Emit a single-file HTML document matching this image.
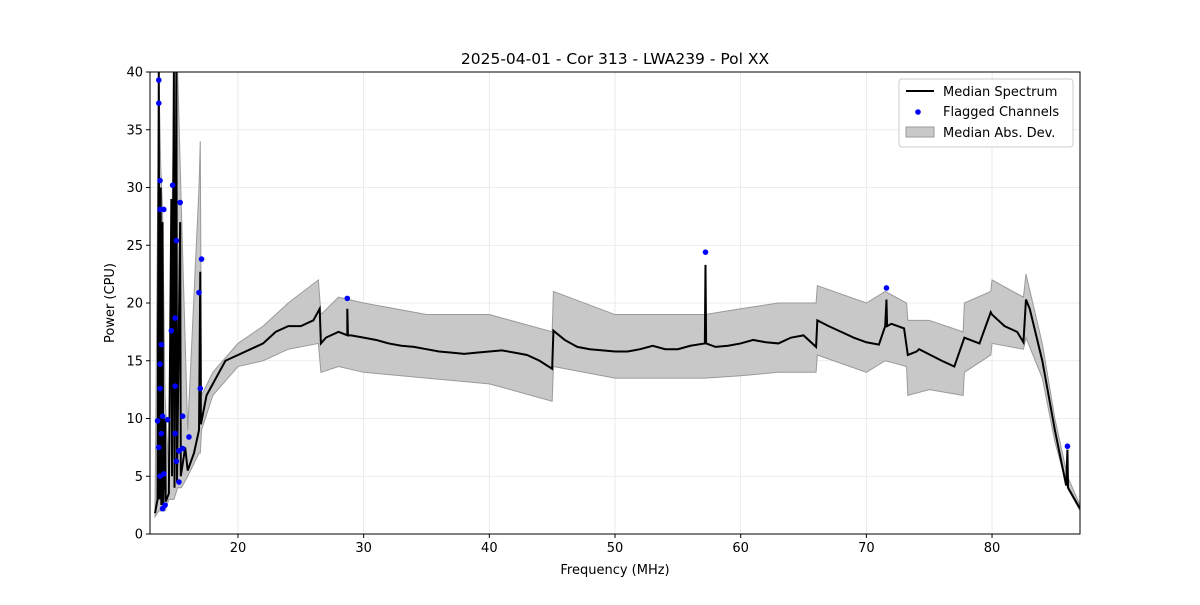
<!DOCTYPE html>
<html><head><meta charset="utf-8">
<style>
body{margin:0;background:#fff;font-family:"Liberation Sans","DejaVu Sans",sans-serif;}
svg text{font-family:"DejaVu Sans","Liberation Sans",sans-serif;font-size:13px;fill:#000}
</style></head><body>
<svg id="chart" width="1200" height="600" xmlns="http://www.w3.org/2000/svg">
<rect width="1200" height="600" fill="#fff"/>
<g id="grid"></g><g id="band"></g><g id="series"></g><g id="pts"></g><g id="axes"></g>
</svg>
<script>
const medFreq=[13.4,13.6,13.7,13.75,13.85,13.9,14.0,14.05,14.2,14.25,14.5,14.7,14.75,14.9,14.95,15.1,15.15,15.4,15.45,15.8,16,16.5,16.9,17.0,17.05,17.5,18,19,20,21,22,23,24,25,26,26.5,26.6,27,28,28.7,28.7,28.75,29,30,31,32,33,34,35,36,37,38,39,40,41,42,43,44,45,45.1,46,47,48,49,50,51,52,53,54,55,56,57.15,57.2,57.25,58,59,60,61,62,63,64,65,66,66.1,67,68,69,70,71,71.5,71.6,71.65,72,73,73.3,74,74.2,76,77,77.8,79,79.9,80,81,82,82.5,82.7,83,84,85,85.9,86,86.05,87];
const medVal=[1.8,3,40,3,30,2.5,27,2.5,10,2.8,3.5,29,5,40,4,40,4.5,27,5,7.5,5.5,7,9,22.7,9.5,12,13,15,15.5,16,16.5,17.5,18,18,18.5,19.5,16.5,17,17.5,17.2,19.5,17.2,17.2,17,16.8,16.5,16.3,16.2,16,15.8,15.7,15.6,15.7,15.8,15.9,15.7,15.5,15,14.3,17.6,16.8,16.2,16,15.9,15.8,15.8,16,16.3,16,16,16.3,16.5,23.3,16.5,16.2,16.3,16.5,16.8,16.6,16.5,17,17.2,16.2,18.5,18,17.5,17,16.6,16.4,18,20.3,18,18.2,17.8,15.5,15.8,16,15,14.5,17,16.5,19.2,19,18,17.5,16.6,20.3,19.5,15,9,4.2,7.3,4,2.2];
const bandFreq=[13.4,13.7,13.85,14.0,14.2,14.5,14.9,15.2,15.5,16,16.9,17.0,17.1,18,20,22,24,26.4,26.6,28,30,35,40,45,45.1,50,55,57.2,60,63,66,66.1,70,71.5,73.2,73.3,75,77.7,77.8,79.9,80,82.5,82.7,84,85,86,87];
const bandLo=[1.5,2,2,2,2,3,3,4,4,5,7,7,9,12,14.5,15,16,16.5,14,14.5,14,13.5,13,11.5,14.5,13.5,13.5,13.5,13.7,14,14,15.5,14,15,14.5,12,12.5,12,14,15.5,16.5,16,17,13.5,8,4,2];
const bandHi=[2.5,40,32,28,12,5,40,40,28,9,30,34,12,14,16.5,18,20,22,19,20.5,20,19,19,17.5,21,19,19,19,19.5,20,20,21.5,20,21,20,18.5,18.5,17.5,20,21,22,20.5,22.5,16.5,10,5,2.5];
const flagFreq=[13.7,13.7,13.8,13.8,14.1,13.9,13.8,13.8,13.6,13.7,13.9,14.0,14.1,13.8,14.0,14.2,14.4,14.8,14.7,15.0,15.1,15.4,15.0,15.0,15.1,15.3,15.3,15.6,15.6,16.1,16.9,17.1,17.0,28.7,57.2,71.6,86];
const flagVal=[39.3,37.3,30.6,28.1,28.1,16.4,14.7,12.6,9.8,7.5,8.7,10.2,5.2,5,2.2,2.5,9.9,30.2,17.6,18.7,25.4,28.7,12.8,8.7,6.3,4.5,7.2,10.2,7.4,8.4,20.9,23.8,12.6,20.4,24.4,21.3,7.6];
const xTicks=[20,30,40,50,60,70,80];
const yTicks=[0,5,10,15,20,25,30,35,40];
const L=150,R=1080,T=72,B=534,X0=13,X1=87,Y0=0,Y1=40;
const xs=v=>L+(v-X0)/(X1-X0)*(R-L), ys=v=>B-(v-Y0)/(Y1-Y0)*(B-T);
const NS="http://www.w3.org/2000/svg";
function mk(tag,parent,attrs){const e=document.createElementNS(NS,tag);for(const k in attrs)e.setAttribute(k,attrs[k]);document.getElementById(parent).appendChild(e);return e;}
const defs=document.createElementNS(NS,'defs');defs.innerHTML='<clipPath id="cp"><rect x="150" y="72" width="930" height="462"/></clipPath>';document.getElementById('chart').prepend(defs);
['band','series','pts'].forEach(id=>document.getElementById(id).setAttribute('clip-path','url(#cp)'));
xTicks.forEach(t=>{const l=mk('line','grid',{x1:xs(t),x2:xs(t),y1:T,y2:B,stroke:'#e6e6e6','stroke-width':0.8});
});
yTicks.forEach(t=>{const l=mk('line','grid',{x1:L,x2:R,y1:ys(t),y2:ys(t),stroke:'#e6e6e6','stroke-width':0.8});
});
let d='M'+bandFreq.map((f,i)=>xs(f)+','+ys(bandHi[i])).join('L');
for(let i=bandFreq.length-1;i>=0;i--)d+='L'+xs(bandFreq[i])+','+ys(bandLo[i]);
const bp=mk('path','band',{d:d+'Z',fill:'#c8c8c8',stroke:'#9a9a9a','stroke-width':1});

const mp=mk('path','series',{d:'M'+medFreq.map((f,i)=>xs(f)+','+ys(medVal[i])).join('L'),fill:'none',stroke:'#000','stroke-width':2,'stroke-linejoin':'miter'});

flagFreq.forEach((f,i)=>{const c=mk('circle','pts',{cx:xs(f),cy:ys(flagVal[i]),r:2.8,fill:'#0000ff'});
});
const fr=mk('rect','axes',{x:L,y:T,width:R-L,height:B-T,fill:'none',stroke:'#000','stroke-width':1});

xTicks.forEach(t=>{mk('line','axes',{x1:xs(t),x2:xs(t),y1:B,y2:B+4,stroke:'#000'});
const tx=mk('text','axes',{x:xs(t),y:B+18,'text-anchor':'middle'});tx.textContent=t;
});
yTicks.forEach(t=>{mk('line','axes',{x1:L-4,x2:L,y1:ys(t),y2:ys(t),stroke:'#000'});
const tx=mk('text','axes',{x:L-7,y:ys(t)+4.5,'text-anchor':'end'});tx.textContent=t;
});
</script>
<svg style="position:absolute;left:0;top:0" width="1200" height="600" xmlns="http://www.w3.org/2000/svg">
<text x="615" y="64" text-anchor="middle" style="font-size:15.5px">2025-04-01 - Cor 313 - LWA239 - Pol XX</text>
<text x="615" y="574" text-anchor="middle">Frequency (MHz)</text>
<text x="114" y="303" text-anchor="middle" transform="rotate(-90 114 303)">Power (CPU)</text>
<g>
<rect x="899" y="79" width="174" height="68" rx="3" fill="#fff" fill-opacity="0.85" stroke="#ccc"/>
<line x1="906" y1="91" x2="934" y2="91" stroke="#000" stroke-width="2"/>
<text x="943" y="96">Median Spectrum</text>
<circle cx="918" cy="112" r="2.8" fill="#0000ff"/>
<text x="943" y="116">Flagged Channels</text>
<rect x="906" y="127" width="28" height="10" fill="#c8c8c8" stroke="#9a9a9a"/>
<text x="943" y="137">Median Abs. Dev.</text>
</g>
</svg>
</body></html>
